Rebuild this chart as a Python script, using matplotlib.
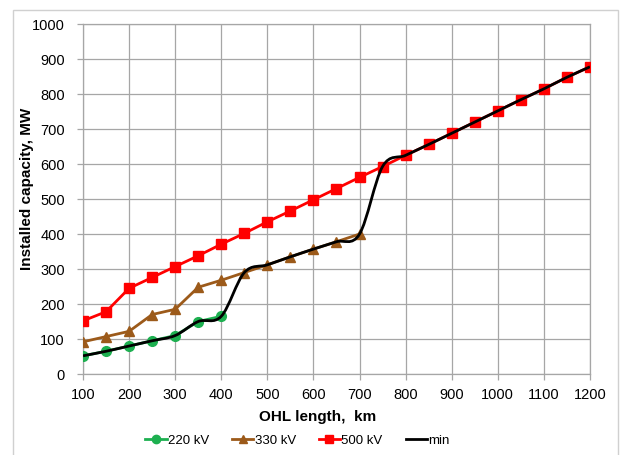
import matplotlib
matplotlib.use("Agg")
import matplotlib.pyplot as plt
from matplotlib.path import Path
from matplotlib.patches import PathPatch, Rectangle
import numpy as np

plt.rcParams['font.family'] = ['Liberation Sans', 'DejaVu Sans']

x220 = [100, 150, 200, 250, 300, 350, 400]
y220 = [52, 65, 80, 95, 110, 150, 165]
x330 = [100, 150, 200, 250, 300, 350, 400, 450, 500, 550, 600, 650, 700]
y330 = [92, 107, 122, 170, 185, 248, 268, 290, 312, 335, 357, 378, 400]
x500 = [100, 150, 200, 250, 300, 350, 400, 450, 500, 550, 600, 650, 700,
        750, 800, 850, 900, 950, 1000, 1050, 1100, 1150, 1200]
y500 = [152, 178, 245, 276, 307, 338, 371, 402, 435, 466, 498, 530, 562,
        593, 625, 656, 688, 720, 752, 784, 815, 848, 878]
xmin = x500
ymin = [52, 65, 80, 95, 110, 150, 165, 290, 312, 335, 357, 378, 400,
        593, 625, 656, 688, 720, 752, 784, 815, 848, 878]

xticks = list(range(100, 1201, 100))
yticks = list(range(0, 1001, 100))

fig = plt.figure(figsize=(6.21, 4.55), dpi=100)
fig.patches.append(Rectangle((13 / 621, -0.01), (618 - 13) / 621, 1 - 10 / 455 + 0.01,
                             transform=fig.transFigure, fill=False,
                             edgecolor='#d0d0d0', linewidth=1.0))
ax = fig.add_axes([0.1337, 0.178, 0.8163, 0.769])

gc = '#a6a6a6'
ax.set_xlim(100, 1200)
ax.set_ylim(0, 1000)
ax.set_xticks(xticks)
ax.set_yticks(yticks)
ax.grid(True, color=gc, linewidth=0.9)
ax.set_axisbelow(True)
for s in ax.spines.values():
    s.set_color(gc)
    s.set_linewidth(0.9)
ax.tick_params(axis='both', colors=gc, length=4, width=0.9, labelsize=10.5,
               labelcolor='black')
ax.tick_params(axis='y', pad=9)
ax.tick_params(axis='x', pad=6)

# smooth min curve (Catmull-Rom style Bezier through the data)
def smooth_path(xs, ys):
    p = np.column_stack([xs, ys]).astype(float)
    verts = [tuple(p[0])]
    codes = [Path.MOVETO]
    n = len(p)
    for i in range(n - 1):
        p0 = p[i - 1] if i > 0 else p[i]
        p3 = p[i + 2] if i + 2 < n else p[i + 1]
        c1 = p[i] + (p[i + 1] - p0) / 6.0
        c2 = p[i + 1] - (p3 - p[i]) / 6.0
        verts += [tuple(c1), tuple(c2), tuple(p[i + 1])]
        codes += [Path.CURVE4] * 3
    return Path(verts, codes)

ax.plot(x220, y220, color='#1db050', marker='o', markersize=7, linewidth=2,
        label='220 kV', zorder=3)
ax.plot(x330, y330, color='#9c5a1a', marker='^', markersize=7.5, linewidth=2,
        label='330 kV', zorder=3)
ax.plot(x500, y500, color='#ff0000', marker='s', markersize=7, linewidth=2,
        label='500 kV', zorder=3)
ax.add_patch(PathPatch(smooth_path(xmin, ymin), fill=False, edgecolor='black',
                       linewidth=2, zorder=4))
ax.plot([], [], color='black', linewidth=2, label='min')

ax.set_xlabel('OHL length,  km', fontsize=11, fontweight='bold')
ax.set_ylabel('Installed capacity, MW', fontsize=11, fontweight='bold')
ax.xaxis.set_label_coords(0.462, -0.103)
ax.yaxis.set_label_coords(-0.097, 0.53)

leg = fig.legend(loc='center', bbox_to_anchor=(0.479, 0.031), ncol=4,
                 frameon=False, fontsize=9.5, handlelength=1.6,
                 handletextpad=0.1, columnspacing=1.75)
for h in leg.legend_handles:
    h.set_markersize(6)

fig.savefig('out.png', dpi=100)
